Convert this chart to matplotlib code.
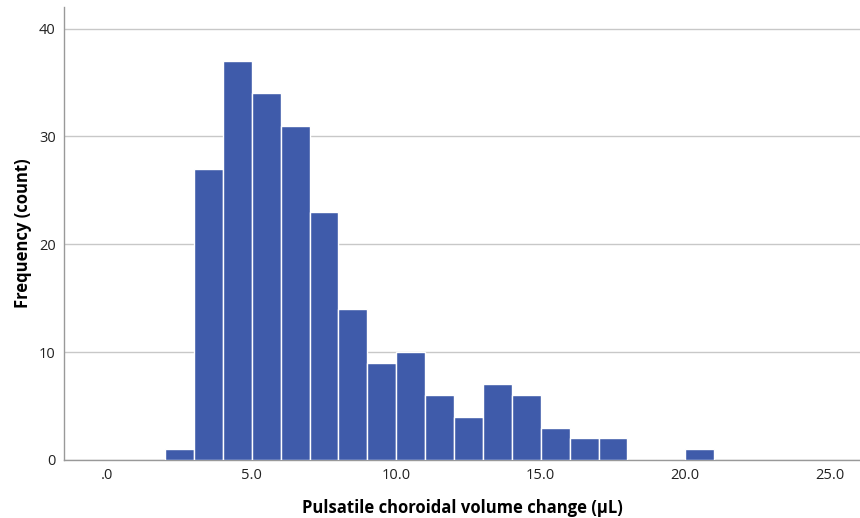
import matplotlib
matplotlib.use("Agg")
import matplotlib.pyplot as plt

bin_edges = [2, 3, 4, 5, 6, 7, 8, 9, 10, 11, 12, 13, 14, 15, 16, 17, 18, 19, 20, 21]
counts = [1, 27, 37, 34, 31, 23, 14, 9, 10, 6, 4, 7, 6, 3, 2, 2, 0, 0, 1]
x_ticks = [0, 5, 10, 15, 20, 25]
x_tick_labels = [".0", "5.0", "10.0", "15.0", "20.0", "25.0"]
y_ticks = [0, 10, 20, 30, 40]

plt.rcParams['font.family'] = ['Open Sans', 'DejaVu Sans']

fig = plt.figure(figsize=(8.6, 5.18), dpi=100)
ax = fig.add_axes([0.0744, 0.112, 0.9256, 0.8746])

lefts = bin_edges[:-1]
ax.bar(lefts, counts, width=1.0, align='edge', color='#3F5BAA',
       edgecolor='white', linewidth=1.0, zorder=3)

ax.set_xlim(-1.5, 26.05)
ax.set_ylim(0, 42)
ax.set_xticks(x_ticks)
ax.set_xticklabels(x_tick_labels)
ax.set_yticks(y_ticks)
ax.grid(axis='y', color='#C8C8C8', linewidth=1.0, zorder=0)
ax.tick_params(length=0, labelsize=10.5, colors='#222222', pad=6)
for s in ['top', 'right']:
    ax.spines[s].set_visible(False)
for s in ['left', 'bottom']:
    ax.spines[s].set_color('#999999')
    ax.spines[s].set_linewidth(1.0)

ax.set_xlabel('Pulsatile choroidal volume change (µL)', fontsize=12,
              fontweight='bold', labelpad=11)
ax.set_ylabel('Frequency (count)', fontsize=12, fontweight='bold', labelpad=5)

fig.savefig('out.png', dpi=100)
